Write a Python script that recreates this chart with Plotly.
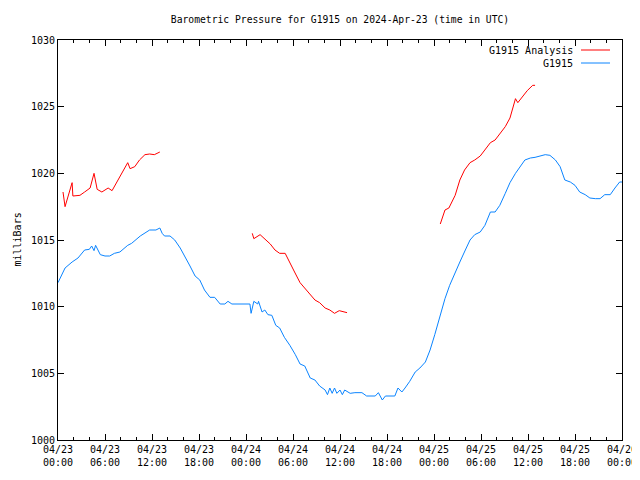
import pandas as pd
import plotly.graph_objects as go

start = pd.Timestamp("2024-04-23 00:00")

# G1915 station series: hours since 04/23 00:00, pressure (mb)
obs_hours = [0.0, 0.9, 1.8, 2.55, 3.4, 4.0, 4.3, 4.6, 4.8, 5.4, 6.0, 6.6, 7.2, 7.9, 8.9, 9.4, 10.5, 11.1, 11.7, 12.5, 13.0, 13.3, 13.6,
             14.3, 14.9, 15.6, 16.2, 16.85, 17.5, 18.1, 18.7, 19.4, 20.0, 20.7, 21.3, 21.7, 22.2, 23.2, 24.5, 24.65, 25.0, 25.5,
             25.6, 26.05, 26.4, 26.8, 27.3, 27.8, 28.3, 28.9, 29.6, 30.3, 30.9, 31.5, 32.2, 32.8, 33.4, 34.1, 34.4, 34.7, 35.0,
             35.3, 35.6, 36.0, 36.3, 36.6, 37.3, 37.9, 38.8, 39.4, 40.5, 40.9, 41.4, 41.8, 43.0, 43.4, 43.9, 44.3, 44.9, 45.6,
             46.2, 46.9, 47.5, 48.1, 48.8, 49.4, 50.0, 50.7, 51.3, 52.0, 52.6, 53.2, 53.9, 54.5, 55.2, 55.8, 56.4, 57.1, 57.7,
             58.4, 59.0, 59.6, 60.3, 60.9, 62.2, 62.8, 63.5, 64.1, 64.7, 65.4, 66.0, 66.6, 67.3, 67.9, 68.6, 69.2, 69.8, 70.5,
             71.1, 71.7, 72.0]
obs_mb = [1011.8, 1012.9, 1013.35, 1013.65, 1014.25, 1014.3, 1014.55, 1014.2, 1014.6, 1013.9, 1013.8, 1013.8, 1014.0, 1014.1, 1014.6, 1014.75, 1015.3, 1015.5, 1015.75, 1015.75, 1015.9, 1015.5, 1015.3,
          1015.3, 1015.0, 1014.4, 1013.8, 1013.05, 1012.3, 1012.0, 1011.25, 1010.7, 1010.7, 1010.2, 1010.2, 1010.4, 1010.2, 1010.2, 1010.2, 1009.5,
          1010.4, 1010.2, 1010.4, 1009.6, 1009.75, 1009.4, 1009.35, 1008.6, 1008.4, 1007.7, 1007.1, 1006.4, 1005.7, 1005.55, 1004.65, 1004.5,
          1004.05, 1003.75, 1003.4, 1003.9, 1003.5, 1003.9, 1003.5, 1003.75, 1003.4, 1003.75, 1003.5, 1003.55, 1003.55, 1003.3, 1003.3, 1003.55,
          1003.0, 1003.3, 1003.3, 1003.9, 1003.6, 1003.9, 1004.4, 1005.1, 1005.4, 1005.85, 1006.75, 1007.9, 1009.4, 1010.6, 1011.6, 1012.6, 1013.35,
          1014.25, 1015.0, 1015.4, 1015.6, 1016.1, 1017.1, 1017.1, 1017.6, 1018.5, 1019.3, 1020.0, 1020.55, 1021.0, 1021.15, 1021.2, 1021.4,
          1021.35, 1021.0, 1020.5, 1019.5, 1019.35, 1019.1, 1018.6, 1018.4, 1018.15, 1018.1, 1018.1, 1018.4, 1018.4, 1018.9, 1019.35, 1019.35]

# G1915 Analysis series (gaps marked with None)
ana_hours = [0.64, 0.9, 1.3, 1.8, 1.9, 2.8, 3.4, 4.1, 4.6, 5.0, 5.6, 6.4, 6.9, 7.7, 8.6, 8.9, 9.2, 9.8, 10.4, 11.1, 11.7, 12.3, 13.0,
             18.0,
             24.8, 25.0, 25.8, 26.4, 27.1, 27.7, 28.3, 29.0, 29.6, 30.2, 30.9, 31.5, 32.2, 32.8, 33.4, 34.1, 34.7, 35.3, 35.9, 36.9,
             42.0,
             48.8, 49.4, 49.9, 50.7, 51.3, 51.9, 52.6, 53.2, 53.9, 54.5, 55.2, 55.8, 56.4, 57.1, 57.7, 58.4, 58.7, 59.2, 59.9, 60.6, 60.9]
ana_mb = [1018.6, 1017.5, 1018.3, 1019.3, 1018.3, 1018.35, 1018.6, 1018.9, 1020.0, 1018.8, 1018.6, 1018.9, 1018.7, 1019.5, 1020.4, 1020.8, 1020.35, 1020.5, 1021.0, 1021.4, 1021.45, 1021.4, 1021.6,
          None,
          1015.5, 1015.1, 1015.4, 1015.1, 1014.7, 1014.25, 1014.0, 1014.0, 1013.35, 1012.6, 1011.8, 1011.4, 1010.9, 1010.5, 1010.3, 1009.9, 1009.75, 1009.5, 1009.7, 1009.55,
          None,
          1016.2, 1017.25, 1017.4, 1018.35, 1019.5, 1020.25, 1020.8, 1021.0, 1021.3, 1021.75, 1022.3, 1022.5, 1022.95, 1023.5, 1024.15, 1025.6, 1025.3, 1025.7, 1026.2, 1026.6, 1026.6]

tick_hours = [0, 6, 12, 18, 24, 30, 36, 42, 48, 54, 60, 66, 72]
tick_labels = ["04/23<br>00:00", "04/23<br>06:00", "04/23<br>12:00", "04/23<br>18:00",
               "04/24<br>00:00", "04/24<br>06:00", "04/24<br>12:00", "04/24<br>18:00",
               "04/25<br>00:00", "04/25<br>06:00", "04/25<br>12:00", "04/25<br>18:00",
               "04/26<br>00:00"]
y_ticks = [1000, 1005, 1010, 1015, 1020, 1025, 1030]

def to_time(hours):
    return [start + pd.Timedelta(hours=h) for h in hours]

FONT = "DejaVu Sans Mono"
RED = "#ff0000"
BLUE = "#0a84ff"

# the page body has an 8px default margin; size the figure to fit the window
W, H = 632, 464
L, T = 50, 32
PW, PH = 564, 400

fig = go.Figure()
fig.add_trace(go.Scatter(x=to_time(ana_hours), y=ana_mb, mode="lines", name="G1915 Analysis",
                         line=dict(color=RED, width=1), connectgaps=False))
fig.add_trace(go.Scatter(x=to_time(obs_hours), y=obs_mb, mode="lines", name="G1915",
                         line=dict(color=BLUE, width=1)))

fig.update_layout(
    width=W, height=H,
    margin=dict(l=L, r=W - L - PW, t=T, b=H - T - PH, autoexpand=False),
    paper_bgcolor="white", plot_bgcolor="white",
    showlegend=False,
    font=dict(family=FONT, size=10, color="black"),
    title=dict(text="Barometric Pressure for G1915 on 2024-Apr-23 (time in UTC)",
               x=0.5, xref="paper", xanchor="center", y=1 - 12 / H, yanchor="middle",
               font=dict(family=FONT, size=9.7, color="black")),
)
fig.update_xaxes(
    range=[start, start + pd.Timedelta(hours=72)],
    tickvals=to_time(tick_hours), ticktext=tick_labels,
    ticks="inside", ticklen=6, tickcolor="black", tickwidth=1,
    minor=dict(ticks="inside", ticklen=3, dtick=2 * 3600 * 1000, tickcolor="black", tickwidth=1),
    showline=True, linecolor="black", linewidth=1, mirror="ticks",
    showgrid=False, zeroline=False, automargin=False,
    tickfont=dict(family=FONT, size=10),
)
fig.update_yaxes(
    range=[1000, 1030], tickvals=y_ticks,
    ticks="inside", ticklen=6, tickcolor="black", tickwidth=1,
    showline=True, linecolor="black", linewidth=1, mirror="ticks",
    showgrid=False, zeroline=False, automargin=False,
    tickfont=dict(family=FONT, size=10),
)

# y-axis title near the left edge, as in the reference
fig.add_annotation(x=(1 - L) / PW, y=0.5, xref="paper", yref="paper", text="milliBars",
                   showarrow=False, textangle=-90, xanchor="left", yanchor="middle",
                   font=dict(family=FONT, size=10, color="black"))

# gnuplot-style legend: text right-aligned, sample line to its right
legend_rows = [("G1915 Analysis", RED, 50), ("G1915", BLUE, 63)]
for label, color, ypx in legend_rows:
    yp = 1 - (ypx - 40) / PH
    fig.add_annotation(x=(575 - 58) / PW, y=yp, xref="paper", yref="paper", text=label,
                       showarrow=False, xanchor="right", yanchor="middle",
                       font=dict(family=FONT, size=10, color="black"))
    fig.add_shape(type="line", xref="paper", yref="paper",
                  x0=(581 - 58) / PW, x1=(610 - 58) / PW, y0=yp, y1=yp,
                  line=dict(color=color, width=1))

fig.write_html("out.html")
